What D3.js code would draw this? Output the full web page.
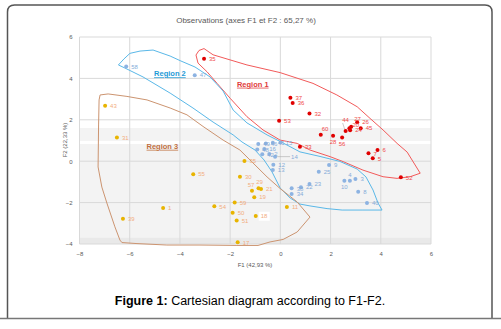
<!DOCTYPE html>
<html>
<head>
<meta charset="utf-8">
<script src="https://cdn.jsdelivr.net/npm/d3@7"></script>
<style>
  body { margin: 0; background: #fff; }
  svg { display: block; }
</style>
</head>
<body>
<svg id="chart" width="501" height="329"></svg>
<script>
// observations (F1, F2)
var region1 = [
  ["35", -3.04, 4.95], ["37", 0.40, 3.07], ["36", 0.49, 2.81], ["32", 1.16, 2.30],
  ["53", -0.05, 1.96], ["44", 2.60, 1.46], ["27", 2.82, 1.67], ["20", 2.75, 1.59],
  ["24", 2.78, 1.50], ["26", 3.06, 1.88], ["45", 3.20, 1.59], ["60", 1.61, 1.28],
  ["28", 2.10, 1.23], ["56", 2.46, 1.15], ["33", 0.78, 0.70], ["6", 3.87, 0.54],
  ["7", 3.51, 0.38], ["5", 3.68, 0.14], ["52", 4.80, -0.78]
];
var region2 = [
  ["58", -6.14, 4.57], ["47", -3.41, 4.15], ["49", -0.88, 0.83], ["46", -0.58, 0.86],
  ["41", -0.30, 0.89], ["15", 0.01, 0.90], ["48", -0.92, 0.56], ["16", -0.64, 0.59],
  ["42", -0.72, 0.33], ["2", -0.44, 0.35], ["14", -0.21, 0.22], ["12", -0.28, -0.17],
  ["13", -0.30, -0.43], ["9", 1.94, -0.18], ["25", 1.53, -0.51], ["23", 1.16, -1.10],
  ["22", 0.82, -1.26], ["38", 0.45, -1.31], ["34", 0.45, -1.58], ["10", 2.55, -0.94],
  ["4", 2.77, -0.94], ["3", 2.99, -0.86], ["8", 3.10, -1.47], ["40", 3.45, -2.02]
];
var region3 = [
  ["43", -6.98, 2.68], ["31", -6.51, 1.15], ["39", -6.27, -2.78], ["1", -4.67, -2.26],
  ["55", -3.47, -0.63], ["35", -1.43, 0.01], ["30", -1.61, -0.75], ["57", -1.13, -1.43],
  ["29", -0.87, -1.31], ["21", -0.77, -1.34], ["19", -1.04, -1.74], ["59", -1.82, -2.00],
  ["54", -2.63, -2.18], ["50", -1.90, -2.49], ["51", -1.74, -2.87], ["18", -0.98, -2.65],
  ["17", -1.70, -3.92], ["11", 0.26, -2.21]
];

// hand drawn outlines around each group (F1, F2)
var outline1 = [[-3.36,5.13],[-3.24,5.35],[-3.04,5.44],[-2.68,5.14],[-1.33,4.65],[-0.01,4.28],
  [1.30,3.76],[2.25,3.20],[3.06,2.63],[3.57,2.07],[4.09,1.51],[4.65,0.86],[5.05,0.44],[5.57,-0.58],
  [5.17,-0.75],[4.65,-0.83],[4.09,-0.75],[3.29,-0.43],[2.50,-0.02],[1.98,0.22],[1.18,0.54],
  [0.67,0.86],[-0.01,1.02],[-0.69,1.51],[-1.33,2.15],[-2.00,3.04],[-2.52,3.76],[-2.92,4.32],[-3.28,4.74]];
var outline2 = [[-6.45,4.65],[-6.23,4.94],[-5.99,5.21],[-5.59,5.32],[-5.07,5.37],[-4.39,5.08],
  [-3.96,4.84],[-3.40,4.55],[-2.80,4.07],[-2.28,3.39],[-1.88,2.47],[-1.33,1.85],[-0.53,1.27],
  [0.11,0.88],[0.78,0.45],[1.58,0.23],[2.37,-0.01],[3.06,-0.38],[3.41,-0.76],[3.69,-1.39],
  [3.89,-2.02],[4.05,-2.36],[3.29,-2.36],[2.46,-2.36],[1.86,-2.29],[1.18,-2.16],[0.78,-2.07],
  [0.39,-1.78],[-0.01,-1.29],[-0.33,-0.52],[-0.65,0.06],[-1.01,0.54],[-1.53,0.93],[-1.88,1.27],
  [-2.68,1.89],[-3.48,2.57],[-4.39,3.29],[-5.47,4.07],[-6.19,4.50]];
var outline3 = [[-7.18,3.20],[-6.86,3.25],[-6.11,3.13],[-5.31,2.96],[-4.39,2.57],[-3.72,2.24],
  [-3.08,1.68],[-2.28,1.02],[-1.61,0.54],[-1.21,0.06],[-0.53,-0.76],[-0.01,-1.32],[0.67,-1.97],
  [1.18,-2.70],[0.67,-3.42],[0.11,-3.78],[-0.41,-3.90],[-0.89,-4.07],[-1.73,-4.07],[-3.20,-4.05],
  [-4.52,-4.05],[-5.71,-3.98],[-6.31,-3.93],[-6.39,-3.81],[-6.59,-3.17],[-6.91,-2.02],[-7.11,-1.25],
  [-7.26,-0.28],[-7.24,1.75],[-7.22,2.96]];

var regionNames = ["Region 1", "Region 2", "Region 3"];
var regionAt = [[-1.1, 3.6], [-4.4, 4.1], [-4.7, 0.6]];
var xTicks = [-8, -6, -4, -2, 0, 2, 4, 6];
var yTicks = [-4, -2, 0, 2, 4, 6];

var title = "Observations (axes F1 et F2 : 65,27 %)";
var xTitle = "F1 (42,93 %)";
var yTitle = "F2 (22,33 %)";

// label placement when a label does not sit to the right of its dot: [dx, dy, anchor]
var labelOffset = {
  "44": [0, -9, "middle"], "27": [3, -6, "start"], "20": [3, -1.5, "start"],
  "60": [1, -4, "start"], "28": [0, 8.5, "middle"], "56": [0, 8.5, "middle"],
  "10": [0, 8.5, "middle"], "4": [0, -4, "middle"], "57": [-1, -4, "middle"],
  "29": [1, -4, "middle"]
};
var leaders = ["14", "44"];
var boxed = ["18"];

var svg = d3.select("#chart");
var font = "'Liberation Sans', Arial, sans-serif";

var x = d3.scaleLinear().domain([-8, 6]).range([79.5, 431]);
var y = d3.scaleLinear().domain([-4, 6]).range([244, 37]);

// frame
svg.append("path")
  .attr("d", "M7.5,318 L7.5,12 Q7.5,5 14.5,5 L485,5 Q492,5 492,12 L492,318")
  .attr("fill", "none").attr("stroke", "#555").attr("stroke-width", 1.5);
svg.append("line").attr("x1", 0).attr("x2", 501).attr("y1", 318.5).attr("y2", 318.5)
  .attr("stroke", "#777").attr("stroke-width", 1.5);

// background bands
svg.append("rect").attr("x", x(-8)).attr("width", x(6) - x(-8))
  .attr("y", y(1.6)).attr("height", y(-4) - y(1.6)).attr("fill", "#f3f3f3");
svg.append("rect").attr("x", x(-8)).attr("width", x(6) - x(-8))
  .attr("y", y(0.98)).attr("height", y(0.83) - y(0.98)).attr("fill", "#fff");
svg.append("rect").attr("x", x(-8)).attr("width", x(6) - x(-8))
  .attr("y", y(-3.7)).attr("height", y(-4) - y(-3.7)).attr("fill", "#e9e9e9");

// grid
svg.append("g").selectAll("line").data(xTicks).enter().append("line")
  .attr("x1", d => x(d)).attr("x2", d => x(d)).attr("y1", y(6)).attr("y2", y(-4))
  .attr("stroke", "#d9d9d9").attr("stroke-width", 1);
svg.append("g").selectAll("line").data(yTicks).enter().append("line")
  .attr("x1", x(-8)).attr("x2", x(6)).attr("y1", d => y(d)).attr("y2", d => y(d))
  .attr("stroke", "#d9d9d9").attr("stroke-width", 1);

// axes (labels only)
var xAxis = svg.append("g").attr("transform", "translate(0," + (y(-4) + 5) + ")")
  .call(d3.axisBottom(x).tickValues(xTicks).tickSize(0).tickFormat(d3.format("d")));
var yAxis = svg.append("g").attr("transform", "translate(" + (x(-8) - 4) + ",0)")
  .call(d3.axisLeft(y).tickValues(yTicks).tickSize(0).tickFormat(d3.format("d")));
[xAxis, yAxis].forEach(function(a) {
  a.select(".domain").remove();
  a.selectAll("text").attr("fill", "#595959").style("font-size", "6px").style("font-family", font);
});

svg.append("text").attr("x", 255).attr("y", 267).attr("text-anchor", "middle")
  .attr("fill", "#595959").style("font-size", "6px").style("font-family", font).text(xTitle);
svg.append("text").attr("transform", "translate(67,140) rotate(-90)").attr("text-anchor", "middle")
  .attr("fill", "#595959").style("font-size", "6px").style("font-family", font).text(yTitle);

svg.append("text").attr("x", 246).attr("y", 23).attr("text-anchor", "middle")
  .attr("fill", "#595959").style("font-size", "8px").style("font-family", font).text(title);

// outlines
var line = d3.line().x(d => x(d[0])).y(d => y(d[1])).curve(d3.curveLinearClosed);
var outlines = [outline1, outline2, outline3];
var outlineColors = ["#f25a5a", "#5ab8e8", "#cc9470"];
outlines.forEach(function(o, i) {
  svg.append("path").attr("d", line(o)).attr("fill", "none")
    .attr("stroke", outlineColors[i]).attr("stroke-width", 1);
});

// region names
var nameColors = ["#e03a3a", "#1e9ad6", "#c0703f"];
regionNames.forEach(function(n, i) {
  svg.append("text").attr("x", x(regionAt[i][0])).attr("y", y(regionAt[i][1]))
    .attr("text-anchor", "middle").attr("fill", nameColors[i])
    .attr("text-decoration", "underline")
    .style("font-size", "7.5px").style("font-weight", "bold").style("font-family", font).text(n);
});

// points
var groups = [region1, region2, region3];
var dotColors = ["#e00000", "#8db3e2", "#e8b400"];
var labColors = ["#f04848", "#86acd9", "#f2ad7e"];

function own(d, i) {
  // offsets only apply to the group they were read from
  return labelOffset[d[0]] && (i !== 1 || d[0] === "10" || d[0] === "4");
}
function lx(d, i) {
  if (own(d, i)) return x(d[1]) + labelOffset[d[0]][0];
  if (d[0] === "14" && i === 1) return x(d[1]) + 16;
  return x(d[1]) + 5;
}
function ly(d, i) {
  if (own(d, i)) return y(d[2]) + labelOffset[d[0]][1];
  return y(d[2]) + 2.2;
}

groups.forEach(function(g, i) {
  var lay = svg.append("g");
  // leader lines
  lay.selectAll("line").data(g.filter(d => leaders.indexOf(d[0]) >= 0 && i < 2)).enter().append("line")
    .attr("x1", d => d[0] === "14" ? x(d[1]) + 2 : x(d[1]) - 1)
    .attr("x2", d => d[0] === "14" ? x(d[1]) + 15 : x(d[1]) - 3)
    .attr("y1", d => d[0] === "14" ? y(d[2]) : y(d[2]) - 2)
    .attr("y2", d => d[0] === "14" ? y(d[2]) : y(d[2]) - 8)
    .attr("stroke", "#aaa").attr("stroke-width", 0.6);
  // white box behind some labels
  lay.selectAll("rect").data(g.filter(d => boxed.indexOf(d[0]) >= 0 && i === 2)).enter().append("rect")
    .attr("x", d => lx(d, i) - 2).attr("y", d => ly(d, i) - 6.5)
    .attr("width", 11).attr("height", 9).attr("fill", "#fff");
  lay.selectAll("circle").data(g).enter().append("circle")
    .attr("cx", d => x(d[1])).attr("cy", d => y(d[2])).attr("r", 2)
    .attr("fill", dotColors[i]);
  lay.selectAll("text").data(g).enter().append("text")
    .attr("x", d => lx(d, i)).attr("y", d => ly(d, i))
    .attr("text-anchor", d => own(d, i) ? labelOffset[d[0]][2] : "start")
    .attr("fill", labColors[i]).style("font-size", "6px").style("font-family", font)
    .text(d => d[0]);
});

// caption
var cap = svg.append("text").attr("x", 250).attr("y", 305).attr("text-anchor", "middle")
  .style("font-size", "12.5px").style("font-family", font).attr("fill", "#000");
cap.append("tspan").style("font-weight", "bold").text("Figure 1:");
cap.append("tspan").text(" Cartesian diagram according to F1-F2.");
</script>
</body>
</html>
